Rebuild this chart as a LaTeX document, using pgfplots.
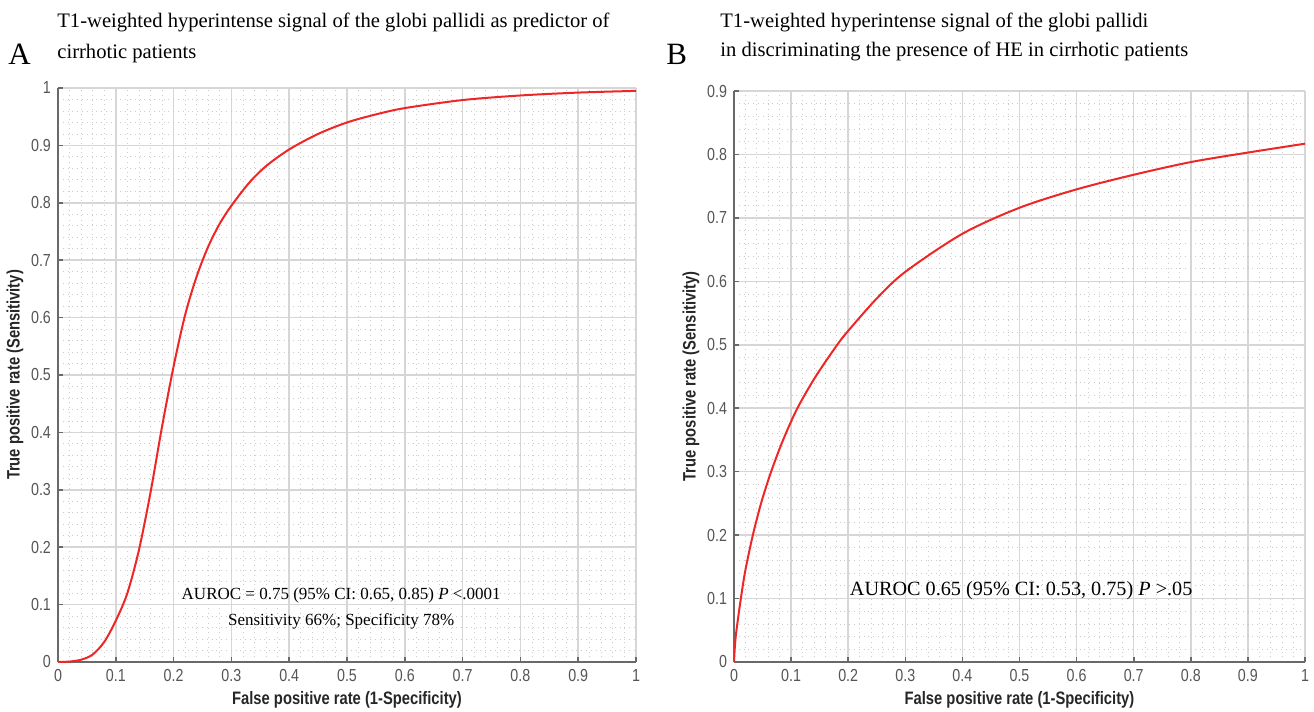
\documentclass[border=0pt]{standalone}
\usepackage{fontspec}
\setmainfont{Liberation Serif}
\newfontfamily\narrow[FakeStretch=0.82]{Liberation Sans}
\usepackage{pgfplots}
\pgfplotsset{compat=1.18}

\definecolor{rocred}{RGB}{238,38,38}
\definecolor{axgray}{RGB}{105,105,105}
\definecolor{ticklab}{RGB}{85,85,85}

\pgfplotsset{rocstyle/.style={
    scale only axis,
    xmin=0, xmax=1, ymin=0,
    axis x line*=bottom, axis y line*=left,
    axis line style={axgray, line width=1pt},
    tick align=inside,
    major tick length=2.5pt,
    minor tick length=0pt,
    tick style={axgray, line width=0.8pt},
    xtick={0,0.1,0.2,0.3,0.4,0.5,0.6,0.7,0.8,0.9,1},
    minor tick num=4,
    grid=both,
    major grid style={black!16, line width=0.75pt},
    minor grid style={black!20, dotted, line width=0.4pt},
    ticklabel style={font=\narrow\fontsize{8.7}{10}\selectfont, text=ticklab},
    /pgf/number format/assume math mode=true,
    label style={font=\narrow\bfseries\fontsize{9}{10}\selectfont, text=black!85},
    xlabel={False positive rate (1-Specificity)},
    ylabel={True positive rate (Sensitivity)},
    xlabel shift=-2pt,
    ylabel shift=-3pt,
  }}

\begin{document}
\begin{tikzpicture}
\useasboundingbox (0,0) rectangle (657pt,-356pt);

% panel A
\node[anchor=base west, font=\fontsize{15.5}{16}\selectfont, inner sep=0pt] at (4pt,-32pt) {A};
\node[anchor=base west, font=\fontsize{10.3}{12}\selectfont, inner sep=0pt] at (28.5pt,-13.8pt)
  {T1-weighted hyperintense signal of the globi pallidi as predictor of};
\node[anchor=base west, font=\fontsize{10.3}{12}\selectfont, inner sep=0pt] at (28.5pt,-29pt)
  {cirrhotic patients};

\begin{axis}[rocstyle, at={(29pt,-331pt)}, anchor=south west,
    width=289pt, height=287pt, ymax=1,
    ytick={0,0.1,0.2,0.3,0.4,0.5,0.6,0.7,0.8,0.9,1}]
\addplot[rocred, line width=1pt, smooth] coordinates {
  (0,0) (0.02,0.0008) (0.04,0.004) (0.06,0.013) (0.08,0.035) (0.1,0.072)
  (0.12,0.12) (0.14,0.195) (0.16,0.295) (0.18,0.41) (0.2,0.515)
  (0.22,0.605) (0.24,0.672) (0.26,0.724) (0.28,0.764) (0.3,0.795)
  (0.33,0.834) (0.36,0.864) (0.4,0.893) (0.45,0.92) (0.5,0.94)
  (0.55,0.954) (0.6,0.965) (0.7,0.979) (0.8,0.987) (0.9,0.992) (1,0.995)
};
\node[font=\fontsize{8.5}{10}\selectfont, align=center] at (axis cs:0.49,0.094)
  {AUROC = 0.75 (95\% CI: 0.65, 0.85) \textit{P} <.0001\\[3pt]
   Sensitivity 66\%; Specificity 78\%};
\end{axis}

% panel B
\node[anchor=base west, font=\fontsize{15.5}{16}\selectfont, inner sep=0pt] at (333pt,-32pt) {B};
\node[anchor=base west, font=\fontsize{10.3}{12}\selectfont, inner sep=0pt] at (360pt,-13.5pt)
  {T1-weighted hyperintense signal of the globi pallidi};
\node[anchor=base west, font=\fontsize{10.3}{12}\selectfont, inner sep=0pt] at (360pt,-28pt)
  {in discriminating the presence of HE in cirrhotic patients};

\begin{axis}[rocstyle, at={(367pt,-331pt)}, anchor=south west,
    width=285.5pt, height=285.5pt, ymax=0.9,
    ytick={0,0.1,0.2,0.3,0.4,0.5,0.6,0.7,0.8,0.9}]
\addplot[rocred, line width=1pt, smooth] coordinates {
  (0,0) (0.003,0.04) (0.012,0.1) (0.02,0.145) (0.033,0.2) (0.048,0.252)
  (0.065,0.3) (0.086,0.35) (0.111,0.4) (0.143,0.45) (0.18,0.499)
  (0.2,0.522) (0.25,0.573) (0.3,0.615) (0.4,0.675) (0.5,0.716) (0.6,0.745)
  (0.7,0.768) (0.8,0.788) (0.9,0.803) (1,0.817)
};
\node[font=\fontsize{10.1}{12}\selectfont] at (axis cs:0.503,0.113)
  {AUROC 0.65 (95\% CI: 0.53, 0.75) \textit{P} >.05};
\end{axis}
\end{tikzpicture}
\end{document}
